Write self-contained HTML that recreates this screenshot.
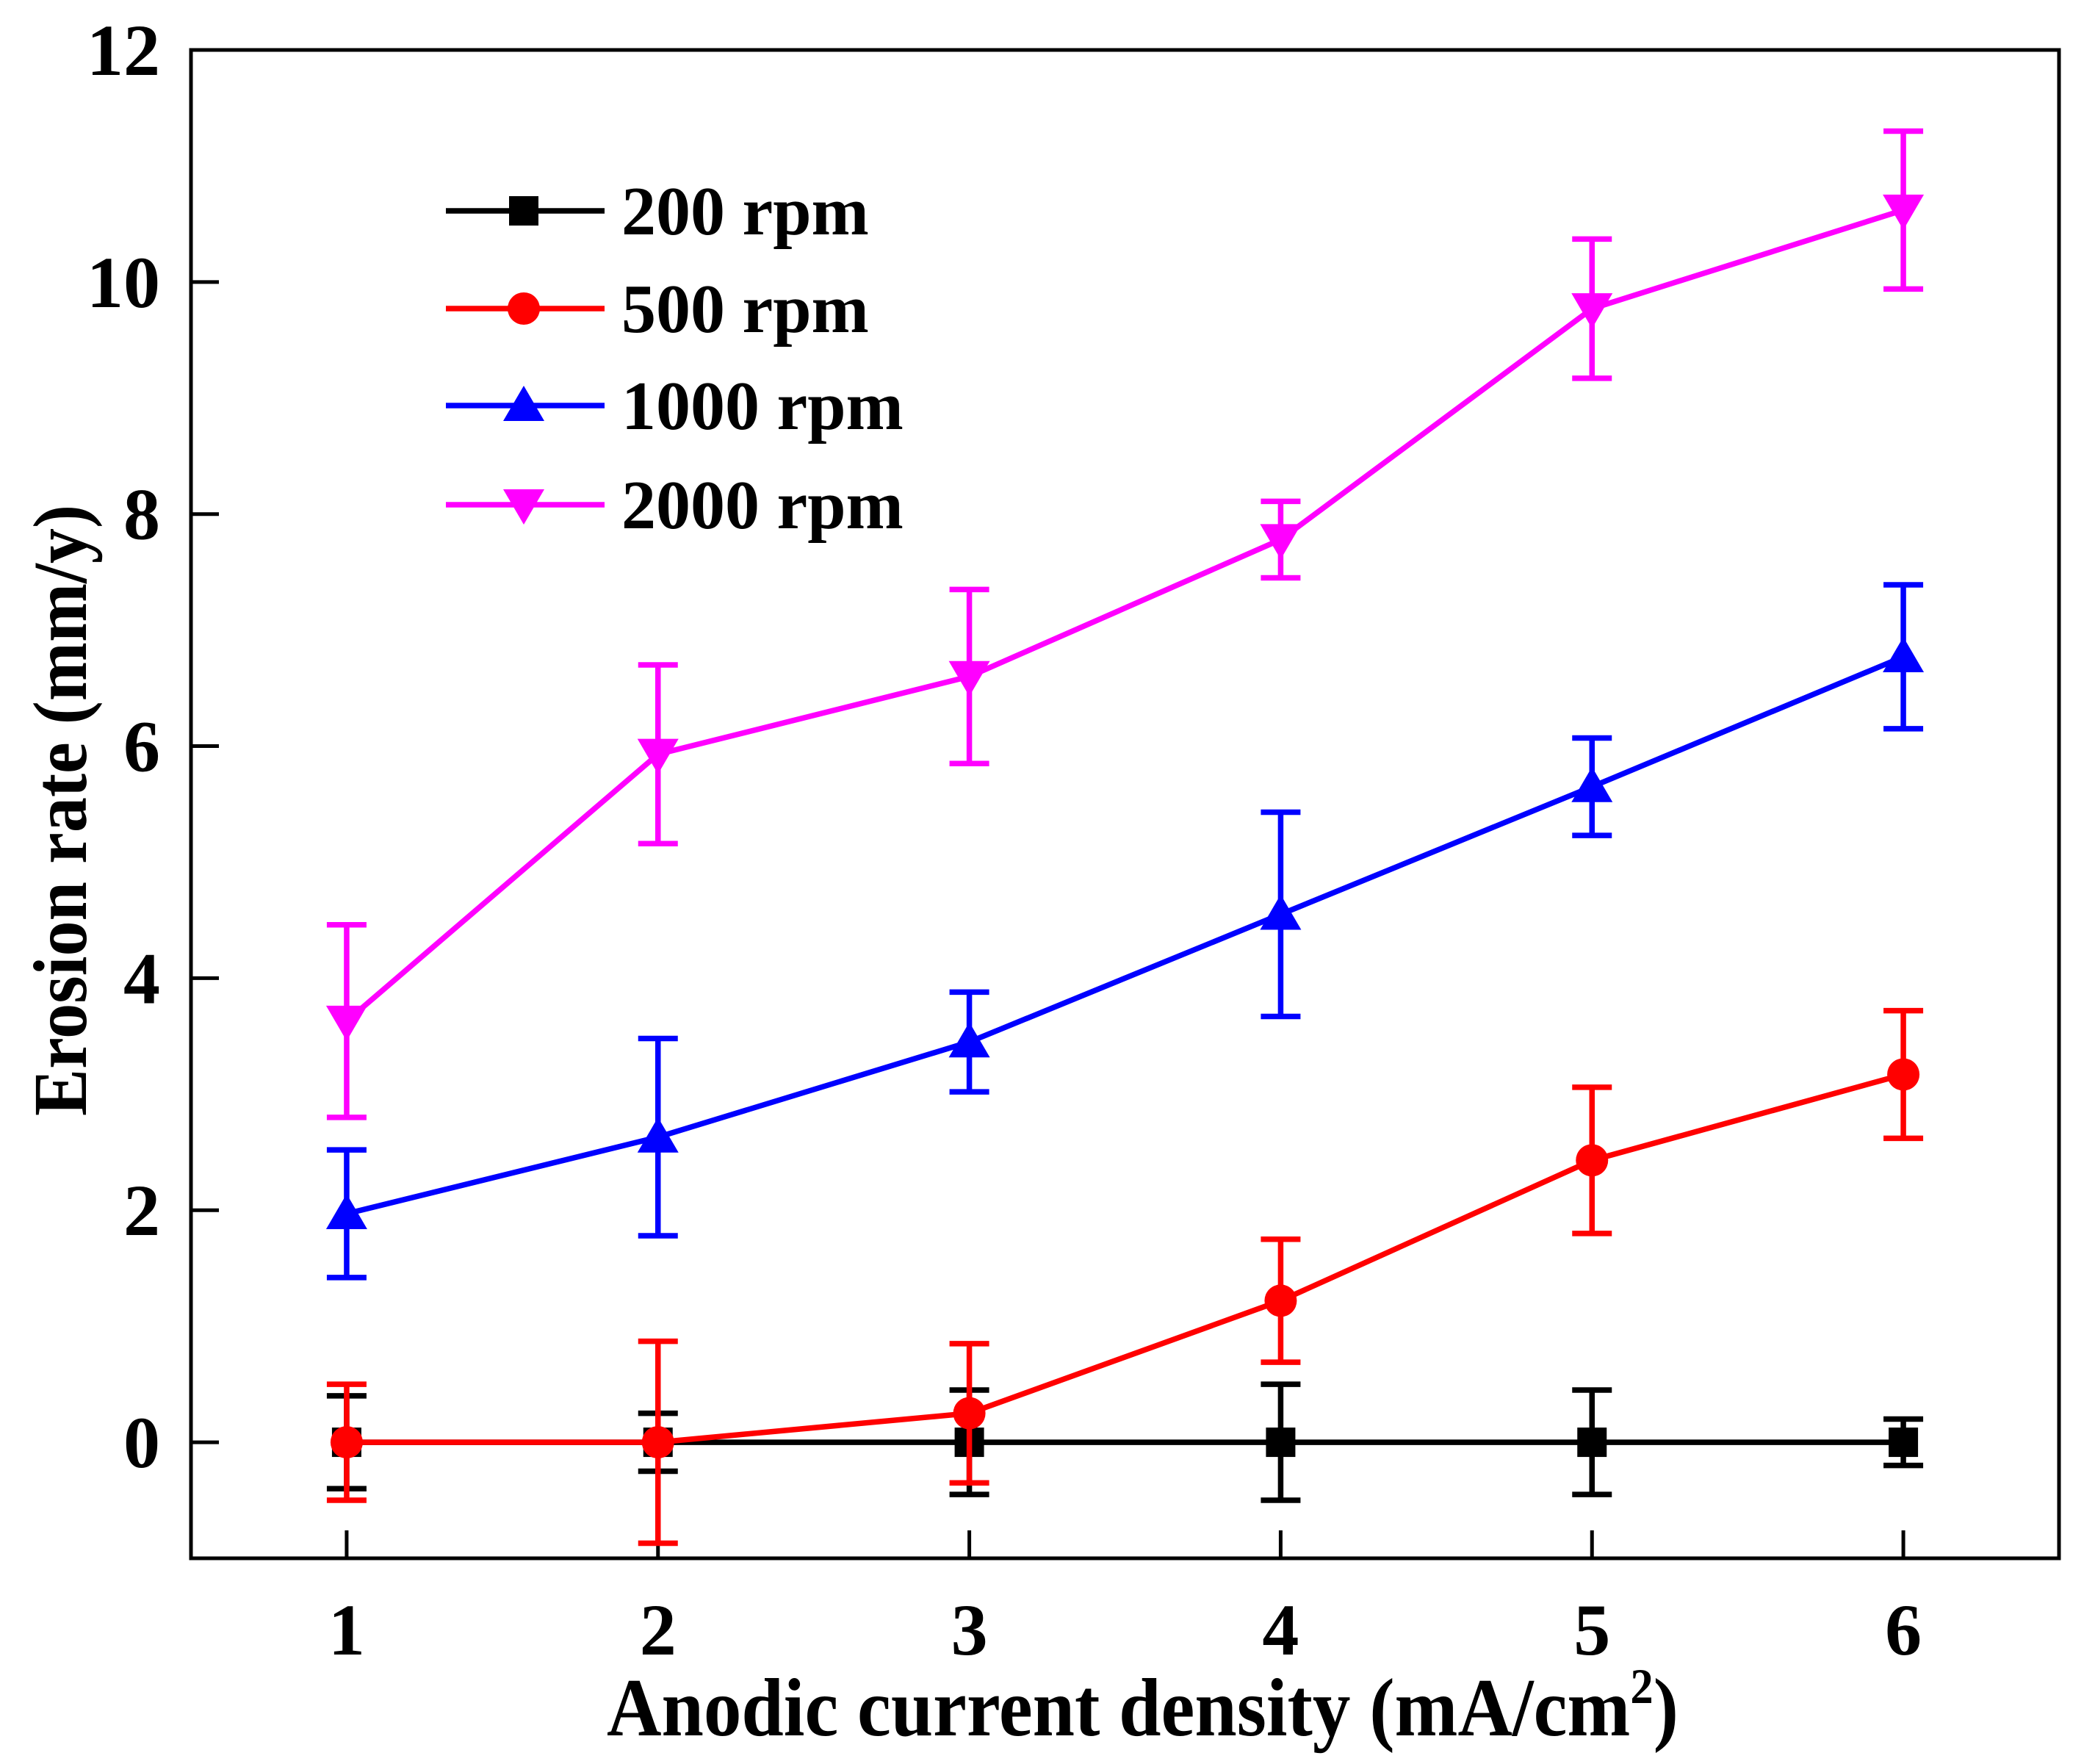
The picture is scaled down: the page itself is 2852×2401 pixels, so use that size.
<!DOCTYPE html>
<html><head><meta charset="utf-8"><style>
html,body{margin:0;padding:0;background:#fff;}
svg{display:block;font-family:"Liberation Serif",serif;font-weight:bold;}
</style></head><body>
<svg id="chart" width="2852" height="2401" viewBox="0 0 2852 2401" xmlns="http://www.w3.org/2000/svg"></svg>
<script>
const categories = [1, 2, 3, 4, 5, 6];
const seriesNames = ["200 rpm", "500 rpm", "1000 rpm", "2000 rpm"];
const seriesColors = ["#000000", "#ff0000", "#0000ff", "#ff00ff"];
const seriesMarkers = ["square", "circle", "triangle", "invtriangle"];
const rpm200 = [0, 0, 0, 0, 0, 0];
const rpm200Err = [0.4, 0.25, 0.45, 0.5, 0.45, 0.2];
const rpm500 = [0, 0, 0.25, 1.22, 2.43, 3.17];
const rpm500Err = [0.5, 0.87, 0.6, 0.53, 0.63, 0.55];
const rpm1000 = [1.97, 2.63, 3.45, 4.55, 5.65, 6.77];
const rpm1000Err = [0.55, 0.85, 0.43, 0.88, 0.42, 0.62];
const rpm2000 = [3.63, 5.93, 6.6, 7.78, 9.77, 10.62];
const rpm2000Err = [0.83, 0.77, 0.75, 0.33, 0.6, 0.68];
const yTicks = [0, 2, 4, 6, 8, 10, 12];
const xTicks = [1, 2, 3, 4, 5, 6];

const NS = "http://www.w3.org/2000/svg";
const svg = document.getElementById("chart");
const L = 260, R = 2803, T = 68, B = 2121;
const xMin = 0.5, xMax = 6.5, yMin = -1, yMax = 12;
function xs(v){ return L + (v - xMin) / (xMax - xMin) * (R - L); }
function ys(v){ return B - (v - yMin) / (yMax - yMin) * (B - T); }
function mk(tag, attrs, parent){
  const e = document.createElementNS(NS, tag);
  for (const k in attrs) e.setAttribute(k, attrs[k]);
  (parent || svg).appendChild(e);
  return e;
}

const frame = mk("rect", {x:L, y:T, width:R-L, height:B-T, fill:"none", stroke:"#000", "stroke-width":5});



yTicks.forEach(v => {
  const t = mk("line", {x1:L, x2:L+38, y1:ys(v), y2:ys(v), stroke:"#000", "stroke-width":5});
  
  
  const lb = mk("text", {x:218, y:ys(v)+34, "text-anchor":"end", "font-size":100});
  lb.textContent = v;
  
  
});
xTicks.forEach(v => {
  const t = mk("line", {x1:xs(v), x2:xs(v), y1:B, y2:B-38, stroke:"#000", "stroke-width":5});
  
  
  const lb = mk("text", {x:xs(v), y:2252, "text-anchor":"middle", "font-size":100});
  lb.textContent = v;
  
  
});

const xt = mk("text", {x:826, y:2362, "font-size":112, textLength:1459, lengthAdjust:"spacingAndGlyphs"});
xt.innerHTML = 'Anodic current density (mA/cm<tspan dy="-44" font-size="68">2</tspan><tspan dy="44">)</tspan>';


const yt = mk("text", {x:0, y:0, "text-anchor":"middle", "font-size":104, textLength:832, lengthAdjust:"spacingAndGlyphs", transform:"translate(117,1103) rotate(-90)"});
yt.textContent = "Erosion rate (mm/y)";



function marker(type, cx, cy, color, parent){
  let e;
  if (type === "square") e = mk("rect", {x:cx-20, y:cy-20, width:40, height:40, fill:color}, parent);
  else if (type === "circle") e = mk("circle", {cx:cx, cy:cy, r:22, fill:color}, parent);
  else if (type === "triangle") e = mk("polygon", {points:`${cx},${cy-27} ${cx-28},${cy+21} ${cx+28},${cy+21}`, fill:color}, parent);
  else e = mk("polygon", {points:`${cx},${cy+27} ${cx-28},${cy-21} ${cx+28},${cy-21}`, fill:color}, parent);
  return e;
}

const allVals = [rpm200, rpm500, rpm1000, rpm2000];
const allErr = [rpm200Err, rpm500Err, rpm1000Err, rpm2000Err];
allVals.forEach((vals, si) => {
  const g = mk("g", {});
  
  
  const c = seriesColors[si];
  vals.forEach((v, i) => {
    const x = xs(categories[i]), e = allErr[si][i];
    const eb = mk("path", {d:`M${x},${ys(v+e)}V${ys(v-e)}M${x-27},${ys(v+e)}H${x+27}M${x-27},${ys(v-e)}H${x+27}`, stroke:c, "stroke-width":7.5, fill:"none"}, g);
    
    
  });
  const line = mk("polyline", {points: vals.map((v,i)=>xs(categories[i])+","+ys(v)).join(" "), stroke:c, "stroke-width":7.5, fill:"none"}, g);
  
  
  vals.forEach((v, i) => {
    const m = marker(seriesMarkers[si], xs(categories[i]), ys(v), c, g);
    
    
  });
});

const legY = [287, 420, 552, 687];
const lg = mk("g", {});


seriesNames.forEach((n, i) => {
  const eg = mk("g", {}, lg);
  
  
  mk("line", {x1:607, x2:823, y1:legY[i], y2:legY[i], stroke:seriesColors[i], "stroke-width":7.5}, eg);
  marker(seriesMarkers[i], 713, legY[i], seriesColors[i], eg);
  const t = mk("text", {x:846, y:legY[i]+32, "font-size":94}, eg);
  t.textContent = n;
});
</script>
</body></html>
